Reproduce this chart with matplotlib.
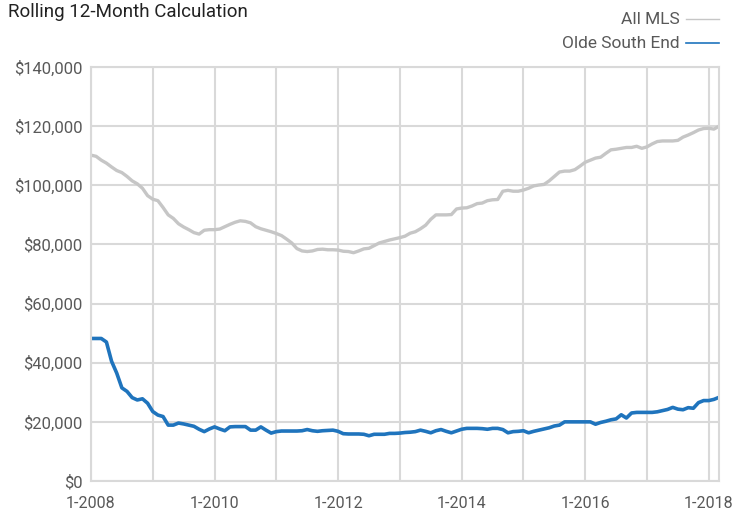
import numpy as np
import matplotlib
matplotlib.use("Agg")
import matplotlib.pyplot as plt

# Rolling 12-month values (thousands of $), monthly from 1-2008 to 3-2018
all_mls = [
    110.2, 109.8, 108.5, 107.5, 106.2, 105.0, 104.3, 103.0, 101.5, 100.5, 99.0, 96.5,
    95.3, 94.8, 92.5, 90.0, 88.8, 87.0, 85.9, 85.0, 84.0, 83.5, 84.8, 85.0,
    85.0, 85.2, 86.0, 86.8, 87.5, 88.0, 87.8, 87.3, 86.0, 85.3, 84.8, 84.3,
    83.7, 83.0, 81.8, 80.5, 78.6, 77.8, 77.6, 77.8, 78.3, 78.4, 78.2, 78.2,
    78.1, 77.7, 77.6, 77.2, 77.8, 78.5, 78.7, 79.6, 80.5, 81.0, 81.5, 81.9,
    82.3, 82.8, 83.8, 84.3, 85.3, 86.5, 88.5, 90.0, 90.0, 90.0, 90.1, 92.0,
    92.3, 92.4, 93.0, 93.8, 94.0, 94.8, 95.1, 95.2, 98.0, 98.3, 98.0, 98.0,
    98.4, 99.0, 99.8, 100.1, 100.3, 101.5, 103.0, 104.5, 104.8, 104.8, 105.3, 106.5,
    107.8, 108.5, 109.2, 109.5, 110.8, 112.0, 112.2, 112.5, 112.8, 112.8, 113.2, 112.5,
    113.0, 114.0, 114.8, 115.0, 115.0, 115.0, 115.2, 116.3, 117.0, 117.8, 118.7, 119.2,
    119.3, 119.0, 120.0,
]
olde_south_end = [
    48.2, 48.2, 48.2, 47.0, 40.5, 36.5, 31.5, 30.3, 28.2, 27.4, 27.8, 26.3,
    23.5, 22.3, 21.8, 18.9, 18.9, 19.6, 19.3, 18.9, 18.5, 17.5, 16.7, 17.6,
    18.3, 17.6, 17.0, 18.3, 18.4, 18.4, 18.4, 17.2, 17.2, 18.3, 17.2, 16.2,
    16.7, 16.9, 16.9, 16.9, 16.9, 17.0, 17.4, 17.0, 16.8, 17.0, 17.1, 17.2,
    16.8, 16.0, 15.9, 15.9, 15.9, 15.8, 15.3, 15.8, 15.8, 15.8, 16.1, 16.1,
    16.2, 16.4, 16.5, 16.7, 17.2, 16.8, 16.3, 17.0, 17.4, 16.8, 16.3, 16.9,
    17.5, 17.8, 17.8, 17.8, 17.7, 17.5, 17.8, 17.8, 17.4, 16.3, 16.7, 16.8,
    17.0, 16.3, 16.8, 17.2, 17.6, 18.0, 18.6, 18.9, 20.0, 20.0, 20.0, 20.0,
    20.0, 20.0, 19.2, 19.8, 20.2, 20.7, 21.0, 22.4, 21.3, 23.0, 23.2, 23.2,
    23.2, 23.2, 23.4, 23.8, 24.2, 24.9, 24.3, 24.1, 24.8, 24.6, 26.5, 27.2,
    27.2, 27.6, 28.3,
]
year_labels = ["1-2008", "1-2010", "1-2012", "1-2014", "1-2016", "1-2018"]

font = ["Liberation Sans Narrow", "Roboto", "DejaVu Sans"]
plt.rcParams['font.family'] = font
txt = "#595959"
grid = "#d9d9d9"

fig = plt.figure(figsize=(7.33, 5.14), dpi=100)
ax = fig.add_axes([0.1241, 0.0642, 0.981 - 0.1241, 0.8696 - 0.0642])

months = np.arange(len(all_mls))
ax.plot(months, np.array(all_mls) * 1000, color="#c6c6c6", lw=2.4, solid_capstyle="round")
ax.plot(months, np.array(olde_south_end) * 1000, color="#1f74bd", lw=2.6, solid_capstyle="round")

ax.set_xlim(0, len(all_mls) - 1)
ax.set_ylim(0, 140000)
ax.set_xticks(np.arange(0, 121, 24))
ax.set_xticklabels(year_labels)
ax.set_xticks(np.arange(12, 121, 24), minor=True)
ax.set_yticks(np.arange(0, 140001, 20000))
ax.set_yticklabels(["${:,}".format(v) for v in range(0, 140001, 20000)])
ax.grid(True, which="both", color=grid, lw=1.5)
ax.set_axisbelow(True)
ax.tick_params(which="both", length=0, colors=txt)
ax.tick_params(axis="y", labelsize=12, pad=6)
ax.tick_params(axis="x", labelsize=11.5, pad=11)
for s in ax.spines.values():
    s.set_color(grid)
    s.set_linewidth(1.5)

fig.text(8 / 733, 1 - 12 / 514, "Rolling 12-Month Calculation", fontsize=13.5,
         color="#222222", va="center", ha="left")

# legend drawn at the top right
fig.text(680 / 733, 1 - 19 / 514, "All MLS", fontsize=12.5, color=txt, ha="right", va="center")
fig.text(680 / 733, 1 - 43 / 514, "Olde South End", fontsize=12.5, color=txt, ha="right", va="center")
fig.add_artist(plt.Line2D([686 / 733, 719 / 733], [1 - 19 / 514] * 2, color="#c6c6c6", lw=1))
fig.add_artist(plt.Line2D([686 / 733, 719 / 733], [1 - 43 / 514] * 2, color="#1f74bd", lw=1.2))

fig.savefig("out.png", dpi=100)
